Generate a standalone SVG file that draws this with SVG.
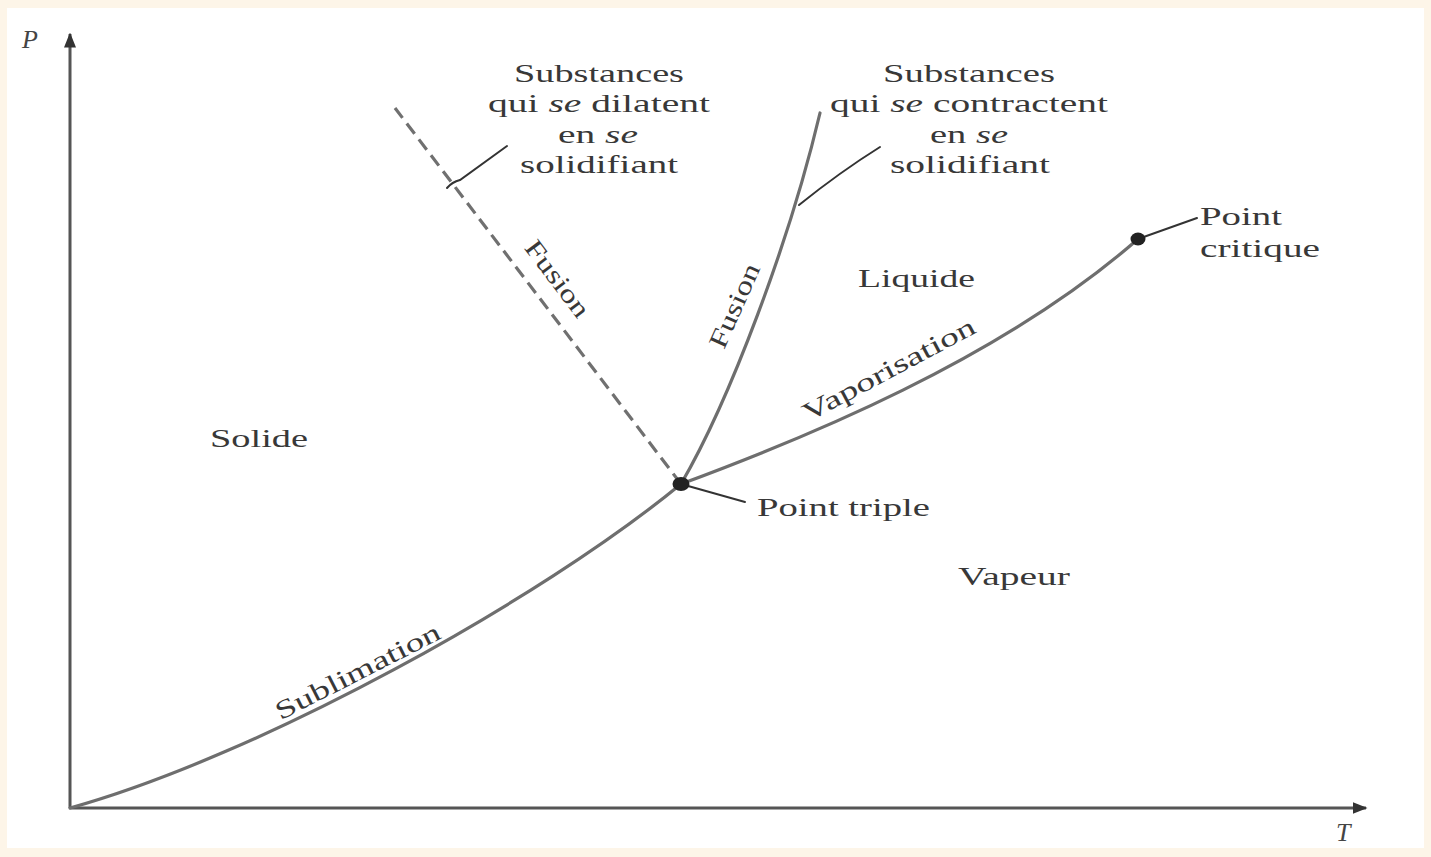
<svg xmlns="http://www.w3.org/2000/svg" width="1431" height="857" viewBox="0 0 1431 857">
<style>
.lbl{font-family:"Liberation Serif","Times New Roman",serif;font-size:26px;fill:#383838;}
.ax{font-family:"Liberation Serif","Times New Roman",serif;font-size:26px;font-style:italic;fill:#444;}
.curve{fill:none;stroke:#6e6e6e;stroke-width:3.2;stroke-linecap:round;}
.dash{fill:none;stroke:#707070;stroke-width:3.2;stroke-dasharray:13 7;}
.lead{fill:none;stroke:#333;stroke-width:2;stroke-linecap:round;}
.axis{fill:none;stroke:#555;stroke-width:3;}
</style>
<defs>
<marker id="arr" viewBox="0 0 10 10" refX="9" refY="5" markerWidth="5" markerHeight="5" orient="auto" markerUnits="strokeWidth">
<path d="M0,1 L10,5 L0,9 z" fill="#333"/>
</marker>
</defs>
<rect x="0" y="0" width="1431" height="857" fill="#fdf5e8"/>
<rect x="7" y="8" width="1417" height="840" fill="#ffffff"/>

<g id="axes">
<line class="axis" x1="70" y1="808" x2="70" y2="34" marker-end="url(#arr)"/>
<line class="axis" x1="70" y1="808" x2="1366" y2="808" marker-end="url(#arr)"/>
<text class="ax" x="22" y="48">P</text>
<text class="ax" x="1336" y="841">T</text>
</g>

<g id="connectors">
<path id="sublimation-curve" class="curve" d="M70,808 C260,755 540,600 681,484"/>
<path id="vaporisation-curve" class="curve" d="M681,484 C800,440 1000,360 1138,239"/>
<path id="fusion-curve" class="curve" d="M681,484 C730,400 790,240 820,113"/>
<path id="fusion-dashed" class="dash" d="M681,484 L395,108"/>
<path class="lead" d="M447,188 Q452,182 460,180 Q485,162 507,146"/>
<path class="lead" d="M799,205 Q840,172 880,147"/>
<path class="lead" d="M1138,239 L1197,218"/>
<path class="lead" d="M681,484 L745,502"/>
</g>

<g id="triple-point">
<ellipse cx="681" cy="484" rx="8.5" ry="7" fill="#222"/>
<text class="lbl" x="757" y="516" textLength="173" lengthAdjust="spacingAndGlyphs">Point triple</text>
</g>
<g id="critical-point">
<ellipse cx="1138" cy="239" rx="7.5" ry="6.5" fill="#222"/>
<text class="lbl" x="1200" y="225" textLength="82" lengthAdjust="spacingAndGlyphs">Point</text>
<text class="lbl" x="1200" y="257" textLength="120" lengthAdjust="spacingAndGlyphs">critique</text>
</g>

<g id="label-dilatent" text-anchor="middle">
<text class="lbl" x="599" y="82" textLength="170" lengthAdjust="spacingAndGlyphs">Substances</text>
<text class="lbl" x="599" y="112" textLength="222" lengthAdjust="spacingAndGlyphs">qui <tspan font-style="italic">se</tspan> dilatent</text>
<text class="lbl" x="598" y="143" textLength="80" lengthAdjust="spacingAndGlyphs">en <tspan font-style="italic">se</tspan></text>
<text class="lbl" x="599" y="173" textLength="158" lengthAdjust="spacingAndGlyphs">solidifiant</text>
</g>
<g id="label-contractent" text-anchor="middle">
<text class="lbl" x="969" y="82" textLength="172" lengthAdjust="spacingAndGlyphs">Substances</text>
<text class="lbl" x="969" y="112" textLength="278" lengthAdjust="spacingAndGlyphs">qui <tspan font-style="italic">se</tspan> contractent</text>
<text class="lbl" x="969" y="143" textLength="78" lengthAdjust="spacingAndGlyphs">en <tspan font-style="italic">se</tspan></text>
<text class="lbl" x="970" y="173" textLength="160" lengthAdjust="spacingAndGlyphs">solidifiant</text>
</g>

<g id="region-solide"><text class="lbl" x="210" y="447" textLength="98" lengthAdjust="spacingAndGlyphs">Solide</text></g>
<g id="region-liquide"><text class="lbl" x="858" y="287" textLength="117" lengthAdjust="spacingAndGlyphs">Liquide</text></g>
<g id="region-vapeur"><text class="lbl" x="958" y="585" textLength="112" lengthAdjust="spacingAndGlyphs">Vapeur</text></g>

<g id="curve-labels" text-anchor="middle">
<text class="lbl" transform="translate(557,279) rotate(53)" x="0" y="8" textLength="90" lengthAdjust="spacingAndGlyphs">Fusion</text>
<text class="lbl" transform="translate(735,306) rotate(-66)" x="0" y="8" textLength="90" lengthAdjust="spacingAndGlyphs">Fusion</text>
<text class="lbl" transform="translate(889,370) rotate(-28)" x="0" y="8" textLength="192" lengthAdjust="spacingAndGlyphs">Vaporisation</text>
<text class="lbl" transform="translate(358,672) rotate(-27)" x="0" y="8" textLength="182" lengthAdjust="spacingAndGlyphs">Sublimation</text>
</g>
</svg>
